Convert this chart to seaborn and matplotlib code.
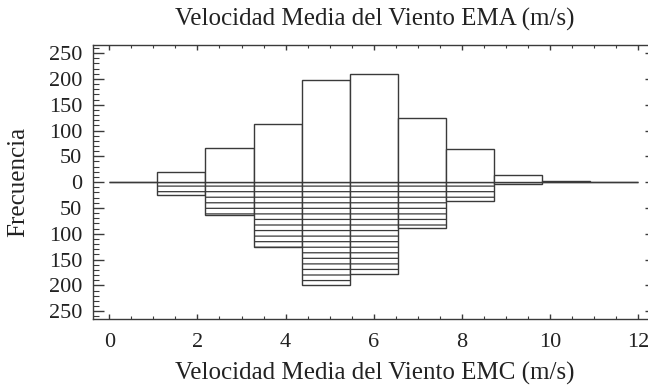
import numpy as np
import pandas as pd
import seaborn as sns
import matplotlib
matplotlib.use("Agg")
import matplotlib.pyplot as plt
from matplotlib.ticker import MultipleLocator, FuncFormatter

# Data
bin_edges = list(np.linspace(0, 12, 12))    # 11 equal-width classes from 0 to 12 m/s
ema_counts = [0, 19, 66, 112, 198, 210, 125, 65, 13, 2, 0]   # top histogram (EMA)
emc_counts = [0, 25, 63, 125, 200, 178, 88, 37, 3, 0, 0]     # bottom histogram (EMC)

title = "Velocidad Media del Viento EMA (m/s)"
xlabel = "Velocidad Media del Viento EMC (m/s)"
ylabel = "Frecuencia"

sns.set_theme(style="white")
plt.rcParams['font.family'] = ['Liberation Serif', 'DejaVu Serif']
plt.rcParams['hatch.linewidth'] = 0.9
plt.rcParams['hatch.color'] = '#3a3a3a'

centers = [(bin_edges[i] + bin_edges[i + 1]) / 2 for i in range(len(bin_edges) - 1)]
df_top = pd.DataFrame({"x": centers, "w": ema_counts})
df_bot = pd.DataFrame({"x": centers, "w": [-c for c in emc_counts]})

fig = plt.figure(figsize=(6.48, 3.89), dpi=100)
ax = fig.add_axes([0.144, 0.180, 0.868, 0.7035])

edge = '#3a3a3a'
sns.histplot(data=df_bot, x="x", weights="w", bins=bin_edges, ax=ax,
             color='white', edgecolor=edge, linewidth=1.0, alpha=1)
for p in ax.patches:
    p.set_hatch('---')
    p.set_facecolor('white')
    p.set_edgecolor(edge)
n_bot = len(ax.patches)
sns.histplot(data=df_top, x="x", weights="w", bins=bin_edges, ax=ax,
             color='white', edgecolor=edge, linewidth=1.0, alpha=1)
for p in ax.patches[n_bot:]:
    p.set_facecolor('white')
    p.set_edgecolor(edge)

ax.set_xlim(-0.363, 12.4)
ax.set_ylim(-265, 265)
ax.xaxis.set_major_locator(MultipleLocator(2))
ax.xaxis.set_minor_locator(MultipleLocator(0.5))
ax.yaxis.set_major_locator(MultipleLocator(50))
ax.yaxis.set_minor_locator(MultipleLocator(10))
ax.yaxis.set_major_formatter(FuncFormatter(lambda v, p: f"{abs(int(round(v)))}"))

for s in ax.spines.values():
    s.set_visible(True)
    s.set_color('#3a3a3a')
    s.set_linewidth(1.0)

ax.tick_params(which='both', direction='in', top=True, right=True,
               bottom=True, left=True, colors='#3a3a3a', labelcolor='#222222')
ax.tick_params(axis='x', which='major', length=3.6, width=1.0, labelsize=16, pad=10)
ax.tick_params(axis='x', which='minor', length=2.0, width=0.8)
ax.tick_params(axis='y', which='major', length=8, width=1.0, labelsize=16, pad=8)
ax.tick_params(axis='y', which='minor', length=4, width=0.8)

ax.set_title(title, fontsize=18, color='#222222', pad=14)
ax.set_xlabel(xlabel, fontsize=18, color='#222222', labelpad=7)
ax.set_ylabel(ylabel, fontsize=18, color='#222222', labelpad=14)

fig.savefig("out.png", dpi=100)
